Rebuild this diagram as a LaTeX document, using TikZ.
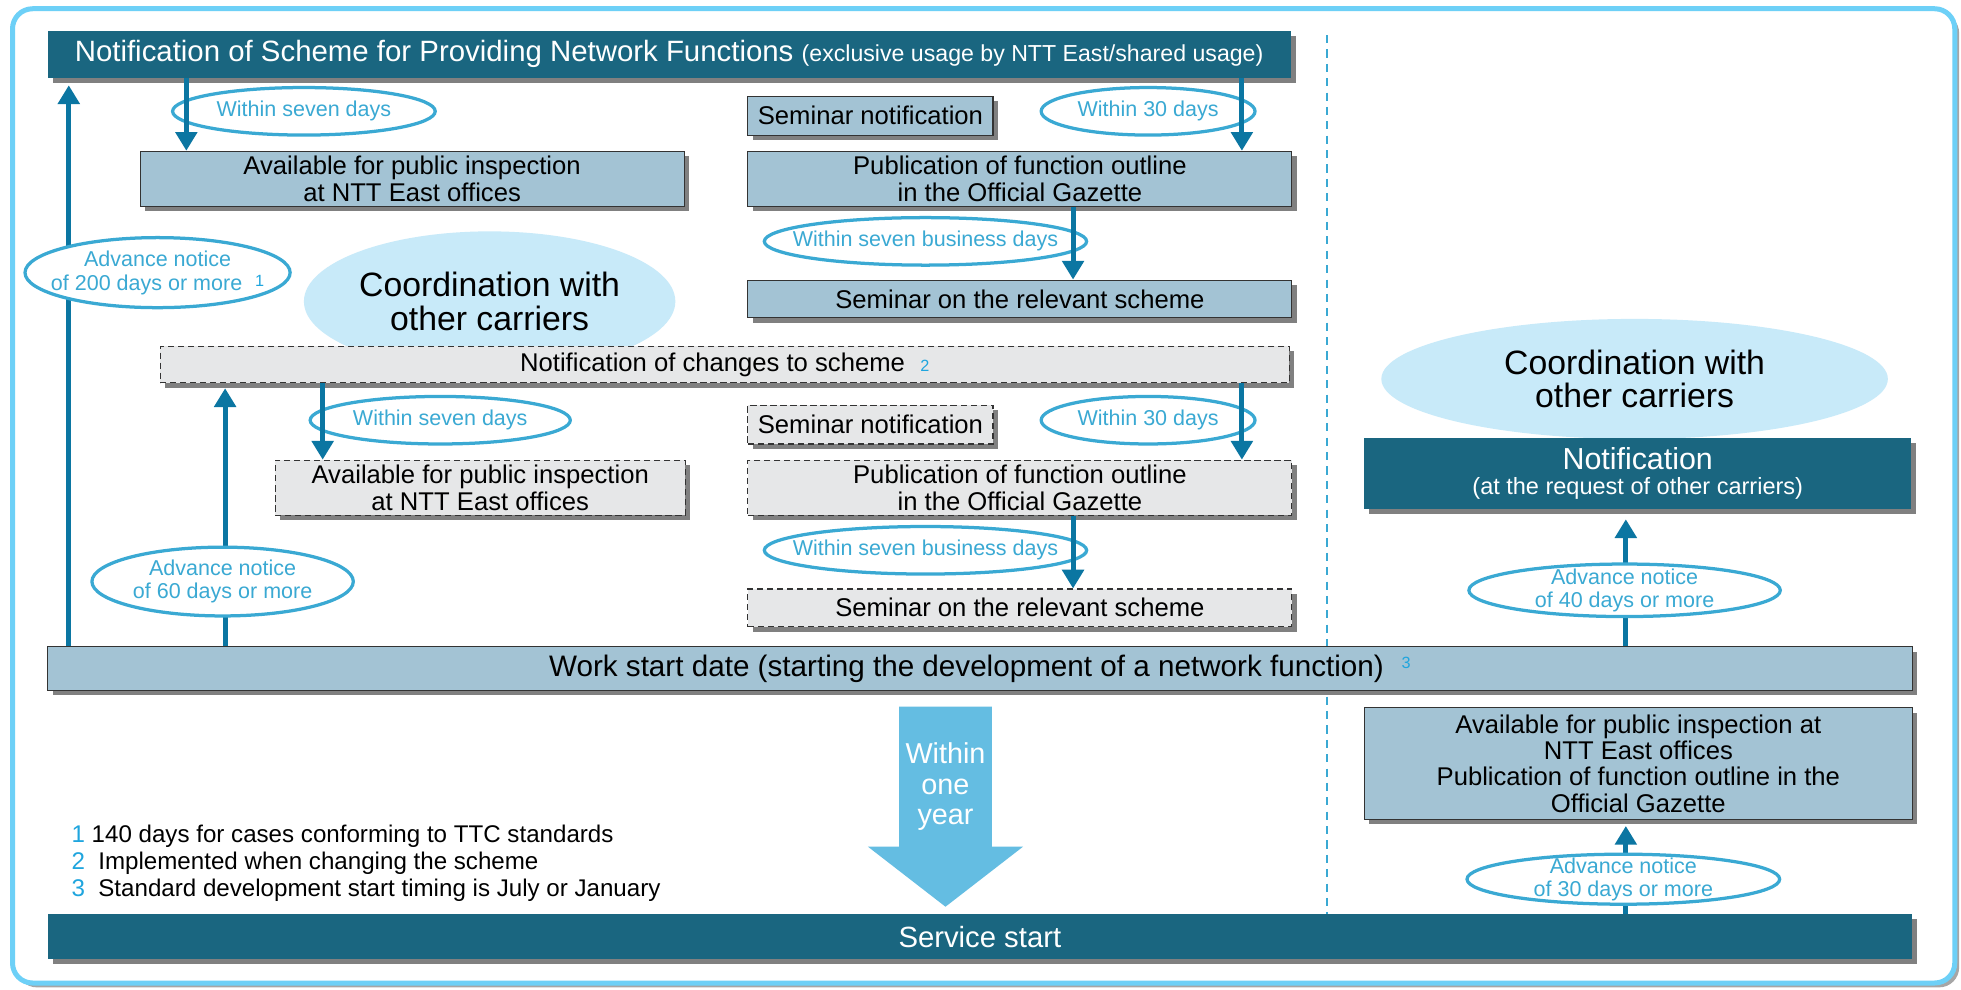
\documentclass[tikz,border=0pt]{standalone}
\usepackage{fontspec}
\setmainfont{Liberation Sans}
\usetikzlibrary{shapes.geometric,arrows.meta,shadows}
\definecolor{cteal}{HTML}{1A6680}
\definecolor{cpale}{HTML}{A3C3D4}
\definecolor{cgray}{HTML}{E6E7E8}
\definecolor{chaze}{HTML}{C8EAF9}
\definecolor{csky}{HTML}{64BDE2}
\definecolor{crim}{HTML}{6DD0F7}
\definecolor{cring}{HTML}{3AA9D3}
\definecolor{cflow}{HTML}{0B76A2}
\definecolor{cmark}{HTML}{1FA5DE}
\definecolor{cshade}{HTML}{808080}
\def \gap {247}
\def \colx {815.5}
\newcommand{\fsz}[2]{\fontsize{#1}{#2}\selectfont}
\newcommand{\supmark}[2][3pt]{\hspace{0.6em}\raisebox{#1}{\fsz{13}{13}\color{cmark}#2}}
\tikzstyle{dropped}=[drop shadow={shadow xshift=4pt, shadow yshift=-4pt, opacity=1, fill=cshade}]
\tikzstyle{rim}=[draw=crim, line width=4pt, rounded corners=16pt, fill=white, drop shadow={shadow xshift=3.5pt, shadow yshift=-3.5pt, opacity=1, fill=cshade!70}]
\tikzstyle{darkbox}=[dropped, fill=cteal, text=white, inner sep=0pt, align=center]
\tikzstyle{pale}=[dropped, draw=black!80, line width=0.9pt, fill=cpale, inner sep=0pt, align=center, font=\fsz{20.5}{21}]
\tikzstyle{plan}=[pale, fill=cgray, dash pattern=on 5pt off 3pt]
\tikzstyle{tag}=[ellipse, draw=cring, line width=2.6pt, fill=white, text=cring, inner xsep=-15pt, inner ysep=-4pt, align=center, font=\fsz{17.2}{19}]
\tikzstyle{haze}=[ellipse, fill=chaze, inner sep=0pt, align=center, font=\fsz{27}{27}]
\tikzstyle{flow}=[draw=cflow, line width=4pt, -{Triangle[width=17pt,length=15pt]}]

\begin{document}
\begin{tikzpicture}[x=1pt, y=-1pt]

\useasboundingbox (0,0) rectangle (1568,791);
\draw[rim] (10,7) rectangle (1563,786);
\draw[draw=cring, line width=1.5pt, dash pattern=on 6.5pt off 5pt] (1061,28) -- (1061,731);

\node[haze, minimum width=297, minimum height=112] (K1) at (391.5,241) {Coordination with\\other carriers};
\node[haze, minimum width=405, minimum height=96] (K2) at (1307,303) {Coordination with\\other carriers};

\node[darkbox, minimum width=994, minimum height=37, font=\fsz{23.5}{24}] (N) at (535,43.5) {Notification of Scheme for Providing Network Functions {\fsz{18.5}{19}(exclusive usage by NTT East/shared usage)}};
\node[plan, minimum width=903, minimum height=29] (M) at (579.5,291.5) {Notification of changes to scheme\supmark[0pt]{2}};
\node[pale, minimum width=435, minimum height=44] (A1) at (329.5,143) {Available for public inspection\\at NTT East offices};
\node[plan, minimum width=328, minimum height=44] (A2) at (384,390) {Available for public inspection\\at NTT East offices};

\foreach \k/\st/\dy in {1/pale/0, 2/plan/\gap} {
    \node[\st, minimum width=196, minimum height=31] (S\k) at (696, 92.5+\dy) {Seminar notification};
    \node[\st, minimum width=435, minimum height=44] (P\k) at (\colx, 143+\dy) {Publication of function outline\\in the Official Gazette};
    \node[\st, minimum width=435, minimum height=30] (R\k) at (\colx, 239+\dy) {Seminar on the relevant scheme};
    \node[tag, minimum width=171, minimum height=38] (G\k) at (918, 89+\dy) {Within 30 days};
    \node[tag, minimum width=251, minimum height=38] (B\k) at (740, 193+\dy) {Within seven business days};
}
\node[tag, minimum width=210, minimum height=38] (D1) at (243,89) {Within seven days};
\node[tag, minimum width=208, minimum height=38] (D2) at (352,336) {Within seven days};

\node[pale, minimum width=1491, minimum height=35, font=\fsz{23.7}{24}] (W) at (783.5,534.5) {Work start date (starting the development of a network function)\supmark[6.5pt]{3}};
\node[darkbox, minimum width=1491, minimum height=36, font=\fsz{23.4}{24}] (E) at (783.5,749) {Service start};
\node[darkbox, minimum width=437, minimum height=57, font=\fsz{18.8}{20}] (Q) at (1309.5,378.5) {{\fsz{24.3}{20}Notification}\\(at the request of other carriers)};
\node[pale, minimum width=438, minimum height=89] (V) at (1310,610.5) {Available for public inspection at\\NTT East offices\\Publication of function outline in the\\Official Gazette};

\foreach \n/\x in {a/55, b/149, c/180, d/258, e/858, f/993, g/1300}
    \coordinate (x\n) at (\x, 0);

\draw[flow] (N.south -| xb) -- (A1.north -| xb);
\draw[flow] (M.south -| xd) -- (A2.north -| xd);
\draw[flow] (N.south -| xf) -- (P1.north -| xf);
\draw[flow] (M.south -| xf) -- (P2.north -| xf);
\foreach \k in {1, 2}
    \draw[flow] (P\k.south -| xe) -- (R\k.north -| xe);
\draw[flow, shorten >=6pt] (W.north -| xa) -- (N.south -| xa);
\draw[flow, shorten >=4pt] (W.north -| xc) -- (M.south -| xc);
\draw[flow, shorten >=8pt] (W.north -| xg) -- (Q.south -| xg);
\draw[flow, shorten >=5pt] (E.north -| xg) -- (V.south -| xg);

\node[tag, minimum width=212, minimum height=56] (L200) at (126,218) {Advance notice\\of 200 days or more\supmark{1}};
\node[tag, minimum width=209, minimum height=55] (L60) at (178,465) {Advance notice\\of 60 days or more};
\node[tag, minimum width=249, minimum height=42, font=\fsz{17.2}{18}] (L40) at (1299,472) {Advance notice\\of 40 days or more};
\node[tag, minimum width=250, minimum height=40, font=\fsz{17.2}{18}] (L30) at (1298,703) {Advance notice\\of 30 days or more};

\fill[csky] (719,565) -- (793,565) -- (793,677) -- (818,677) -- (756,725) -- (694,677) -- (719,677) -- cycle;
\node[text=white, align=center, inner sep=0pt, font=\fsz{23}{24.5}] (Y) at (756,629) {Within\\one\\year};

\foreach \n/\t in {1/140 days for cases conforming to TTC standards, 2/\ Implemented when changing the scheme, 3/\ Standard development start timing is July or January}
    \node[anchor=base west, inner sep=0pt, font=\fsz{19.3}{20}] (F\n) at (57, 652.5+21.5*\n) {\textcolor{cmark}{\n}\ \t};

\end{tikzpicture}
\end{document}
